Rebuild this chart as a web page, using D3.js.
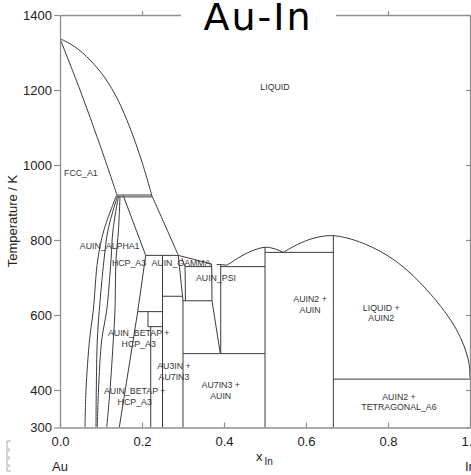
<!DOCTYPE html>
<html>
<head>
<meta charset="utf-8">
<script src="https://cdn.jsdelivr.net/npm/d3@7"></script>
<style>
  html, body { margin: 0; padding: 0; background: #fff; }
  svg { display: block; }
  .tick text { font-family: "Liberation Sans", Arial, sans-serif; font-size: 13px; fill: #222; }
</style>
</head>
<body>
<svg id="chart" width="471" height="475"></svg>
<script>
// Axis ticks
const xTicks = [0, 0.2, 0.4, 0.6, 0.8, 1.0];
const yTicks = [300, 400, 600, 800, 1000, 1200, 1400];
const topTicks = [0.2, 0.4, 0.6, 0.8];

// Phase boundaries as [x(In), T / K] points
const fccLiquidus = [[0, 1337], [0.0366, 1315], [0.0732, 1280], [0.1098, 1232], [0.1415, 1173], [0.1707, 1099], [0.2, 1008], [0.2244, 917]];
const fccSolidus = [[0, 1337], [0.0488, 1200], [0.0976, 1053], [0.139, 920]];
const hcpLiquidus = [[0.2244, 917], [0.256, 840], [0.2886, 759]];
const auInLiquidus = [[0.4066, 733], [0.4146, 738], [0.439, 755], [0.468, 771], [0.5, 780.5], [0.522, 777], [0.5446, 767]];
const auIn2Liquidus = [[0.5446, 767], [0.5773, 787], [0.6178, 804.5], [0.6667, 811.5], [0.7398, 791], [0.821, 742], [0.902, 658], [0.9675, 560], [0.996, 480], [1.0, 432]];

// Solvus curves fanning out below the 920 K peritectic
const solvus1 = [[0.1383, 920], [0.1073, 827], [0.092, 747], [0.0812, 613], [0.072, 533], [0.0634, 400], [0.061, 300]];
const solvus2 = [[0.1402, 917], [0.1171, 827], [0.1073, 747], [0.0959, 613], [0.091, 533], [0.0885, 400], [0.0878, 300]];
const solvus3 = [[0.1427, 917], [0.1293, 827], [0.1244, 747], [0.1139, 613], [0.1017, 533], [0.0939, 400], [0.091, 300]];
const solvus4 = [[0.1463, 917], [0.1427, 827], [0.1366, 747], [0.1341, 613], [0.13, 533], [0.122, 400], [0.1139, 300]];

// Straight boundaries: invariant lines, compounds and narrow phase fields
const peritectic920 = [[0.139, 920], [0.2244, 920]];
const peritectic915 = [[0.1402, 915], [0.2244, 915]];
const hcpBoundary = [[0.1544, 918], [0.209, 759], [0.1895, 609], [0.1446, 300]];
const peritectic759 = [[0.209, 759], [0.2886, 759]];
const au3In = [[0.25, 759], [0.25, 300]];
const line650 = [[0.25, 650], [0.3, 650]];
const gammaLeft = [[0.2886, 759], [0.3, 637], [0.3, 300]];
const gammaRight = [[0.297, 752], [0.305, 729], [0.306, 638]];
const gammaTop = [[0.2886, 759], [0.37, 736]];
const line638 = [[0.3, 638], [0.3707, 638]];
const psiLeft = [[0.37, 736], [0.3707, 638], [0.391, 497]];
const psiRight = [[0.392, 735], [0.392, 497]];
const line735 = [[0.382, 735], [0.4066, 733]];
const line729a = [[0.305, 729], [0.3702, 729]];
const line729b = [[0.392, 729], [0.5, 729]];
const line497 = [[0.3, 497], [0.5, 497]];
const auIn = [[0.5, 780.5], [0.5, 300]];
const auIn2 = [[0.6667, 811.5], [0.6667, 300]];
const eutectic767 = [[0.5, 767], [0.6667, 767]];
const eutectic429 = [[0.6667, 429], [1.0, 429]];
const betapTop = [[0.1895, 609], [0.25, 609]];
const betapStep = [[0.2146, 609], [0.2146, 569], [0.25, 569]];
const betapLeft = [[0.2213, 569], [0.2213, 300]];

const curvedBoundaries = [fccLiquidus, fccSolidus, hcpLiquidus, auInLiquidus, auIn2Liquidus, solvus1, solvus2, solvus3, solvus4];
const straightBoundaries = [peritectic920, peritectic915, hcpBoundary, peritectic759, au3In, line650, gammaLeft, gammaRight, gammaTop, line638, psiLeft, psiRight, line735, line729a, line729b, line497, auIn, auIn2, eutectic767, eutectic429, betapTop, betapStep, betapLeft];

// Phase field labels: text lines and anchor point [x(In), T / K]
const labelText = [
  ["FCC_A1"], ["LIQUID"], ["AUIN_ALPHA1"], ["HCP_A3"], ["AUIN_GAMMA"], ["AUIN_PSI"],
  ["AUIN_BETAP +", "HCP_A3"], ["AU3IN +", "AU7IN3"], ["AUIN_BETAP +", "HCP_A3"],
  ["AU7IN3 +", "AUIN"], ["AUIN2 +", "AUIN"], ["LIQUID +", "AUIN2"], ["AUIN2 +", "TETRAGONAL_A6"]
];
const labelAt = [
  [0.0098, 979], [0.5244, 1209], [0.1212, 784], [0.1683, 740], [0.2951, 740], [0.3805, 700],
  [0.1919, 551], [0.278, 464], [0.1822, 397],
  [0.392, 413], [0.61, 643], [0.7837, 620], [0.8268, 382]
];

const svg = d3.select("#chart");
const W = 471, H = 475;
const x = d3.scaleLinear().domain([0, 1]).range([60, 470]);
const y = d3.scaleLinear().domain([300, 1400]).range([427.5, 15]);

svg.append("rect").attr("width", W).attr("height", H).attr("fill", "#fff");

svg.append("defs").append("clipPath").attr("id", "plot")
  .append("rect").attr("x", 60).attr("y", 15).attr("width", 410).attr("height", 412.5);

const plot = svg.append("g").attr("clip-path", "url(#plot)");
const stroke = "#3a3a3a";

const curveLine = d3.line().x(d => x(d[0])).y(d => y(d[1])).curve(d3.curveCatmullRom.alpha(0.5));
const polyLine = d3.line().x(d => x(d[0])).y(d => y(d[1]));

plot.selectAll("path.curve").data(curvedBoundaries).join("path")
  .attr("class", "curve").attr("d", curveLine)
  .attr("fill", "none").attr("stroke", stroke).attr("stroke-width", 1);

plot.selectAll("path.seg").data(straightBoundaries).join("path")
  .attr("class", "seg").attr("d", polyLine)
  .attr("fill", "none").attr("stroke", stroke).attr("stroke-width", 1);

// Phase labels
const labels = plot.selectAll("text.phase").data(labelText).join("text")
  .attr("class", "phase")
  .attr("font-family", "'Liberation Sans', Arial, sans-serif")
  .attr("font-size", 8.8)
  .attr("fill", "#333")
  .attr("text-anchor", (d, i) => i === 0 ? "start" : "middle")
  .attr("x", (d, i) => x(labelAt[i][0]))
  .attr("y", (d, i) => y(labelAt[i][1]));
labels.selectAll("tspan").data(d => d).join("tspan")
  .attr("x", function () { return this.parentNode.getAttribute("x"); })
  .attr("dy", (d, j) => j === 0 ? "0.35em" : "1.2em")
  .text(d => d);

// Axes
const axisColor = "#8f8f8f";
function styleAxis(g) {
  g.selectAll(".domain").attr("stroke", axisColor).attr("stroke-width", 1.3);
  g.selectAll(".tick line").attr("stroke", axisColor).attr("stroke-width", 1.2);
}

svg.append("g").attr("transform", "translate(0,427.5)")
  .call(d3.axisBottom(x).tickValues(xTicks).tickFormat(d3.format(".1f"))
    .tickSizeInner(-5).tickSizeOuter(0).tickPadding(9))
  .call(styleAxis);

svg.append("g").attr("transform", "translate(60,0)")
  .call(d3.axisLeft(y).tickValues(yTicks).tickFormat(d3.format("d"))
    .tickSizeInner(6).tickSizeOuter(0).tickPadding(2))
  .call(styleAxis);

svg.append("g").attr("transform", "translate(0,15)")
  .call(d3.axisTop(x).tickValues(topTicks).tickFormat("").tickSizeInner(4).tickSizeOuter(0))
  .call(styleAxis);

svg.append("g").attr("transform", "translate(470,0)")
  .call(d3.axisRight(y).tickValues(yTicks).tickFormat("").tickSizeInner(-4).tickSizeOuter(0))
  .call(styleAxis);

// Axis titles
const sans = "'Liberation Sans', Arial, sans-serif";
svg.append("text")
  .attr("transform", "translate(16.5,221) rotate(-90)")
  .attr("text-anchor", "middle")
  .attr("font-family", sans).attr("font-size", 13).attr("fill", "#222")
  .text("Temperature / K");

const xt = svg.append("text")
  .attr("x", 256).attr("y", 461)
  .attr("font-family", sans).attr("font-size", 13).attr("fill", "#222");
xt.append("tspan").text("x");
xt.append("tspan").attr("dx", 2).attr("dy", 4).attr("font-size", 10).text("In");

svg.append("text").attr("x", 52).attr("y", 470.5)
  .attr("font-family", sans).attr("font-size", 13).attr("fill", "#222").text("Au");
svg.append("text").attr("x", 465).attr("y", 470.5)
  .attr("font-family", sans).attr("font-size", 13).attr("fill", "#222").text("In");

// Small scale marker at the lower left
svg.append("path")
  .attr("d", "M11,441 H7 V471 H11 M9,448 V452 M9,456 V460 M9,464 V467")
  .attr("fill", "none").attr("stroke", "#aaa").attr("stroke-width", 1);

// Title on a white band over the top frame
svg.append("rect").attr("x", 181).attr("y", 0).attr("width", 155).attr("height", 22).attr("fill", "#fff");
svg.append("text")
  .attr("x", 258).attr("y", 30)
  .attr("text-anchor", "middle")
  .attr("font-family", "'DejaVu Sans', sans-serif")
  .attr("font-size", 38)
  .attr("letter-spacing", 2)
  .attr("fill", "#000")
  .text("Au-In");
</script>
</body>
</html>
